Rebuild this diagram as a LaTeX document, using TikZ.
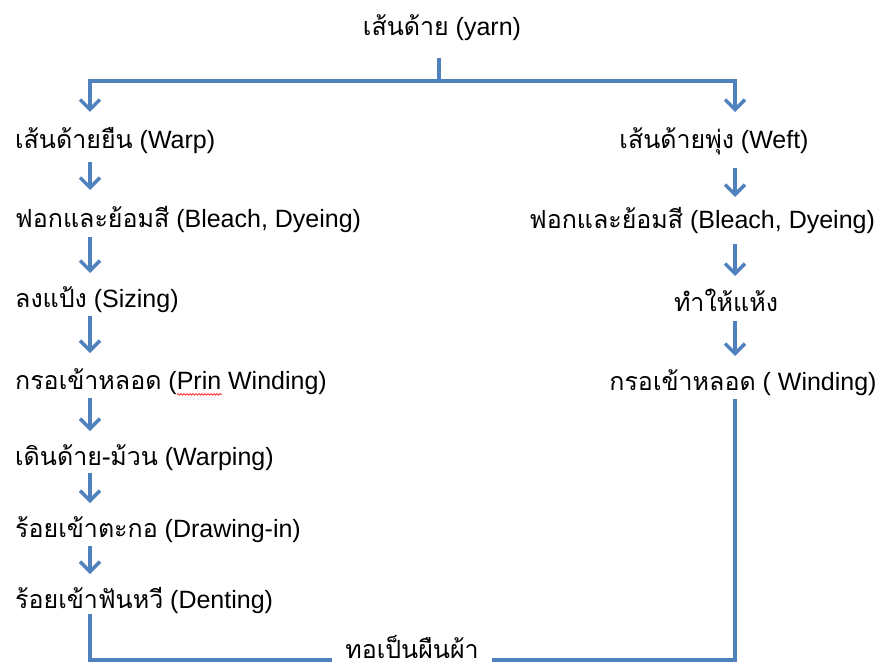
\documentclass[tikz,border=0pt]{standalone}
\usepackage{fontspec}
\setmainfont{Liberation Sans}
\newfontfamily\thf[Script=Thai]{Loma}
\usetikzlibrary{arrows.meta,calc,decorations.pathmorphing}
\definecolor{flowblue}{HTML}{4F81BD}
\newcommand\T[1]{{\thf #1}}
\newcommand\squig{\rlap{\tikz[baseline=0pt,x=1pt,y=1pt]\draw[red,line width=0.6pt,decorate,decoration={snake,amplitude=0.9pt,segment length=3pt}] (0,-5)--(45,-5);}}
\tikzset{
  lbl/.style={inner sep=0pt, font=\fontsize{25}{29}\selectfont, text=black},
  lft/.style={lbl, anchor=west},
  ln/.style={draw=flowblue, line width=3.5pt},
  arr/.style={ln, -{Straight Barb[length=10pt,width=20pt]}},
}
\begin{document}
\begin{tikzpicture}[x=1pt,y=-1pt]
\useasboundingbox (0,0) rectangle (880,668);
% title
\node[lbl] (yarn) at (442,28) {\T{เส้นด้าย} (yarn)};
\coordinate (j) at (439,81);
\coordinate (colL) at (90,0);
\coordinate (colR) at (735,0);
% left column
\node[lft] (warp) at (15,141) {\T{เส้นด้ายยืน} (Warp)};
\node[lft] (bleachL) at (15,220) {\T{ฟอกและย้อมสี} (Bleach, Dyeing)};
\node[lft] (sizing) at (15,300) {\T{ลงแป้ง} (Sizing)};
\node[lft] (prin) at (15,382) {\T{กรอเข้าหลอด} (\squig Prin Winding)};
\node[lft] (warping) at (15,458) {\T{เดินด้าย-ม้วน} (Warping)};
\node[lft] (drawing) at (15,530) {\T{ร้อยเข้าตะกอ} (Drawing-in)};
\node[lft] (denting) at (15,600) {\T{ร้อยเข้าฟันหวี} (Denting)};
% right column
\node[lbl] (weft) at (714,141) {\T{เส้นด้ายพุ่ง} (Weft)};
\node[lbl] (bleachR) at (702,221) {\T{ฟอกและย้อมสี} (Bleach, Dyeing)};
\node[lbl] (dry) at (726,300) {\T{ทำให้แห้ง}};
\node[lbl] (winding) at (743,383) {\T{กรอเข้าหลอด} ( Winding)};
% bottom
\node[lbl, inner xsep=13pt] (weave) at (412,647) {\T{ทอเป็นผืนผ้า}};
% top connectors
\draw[ln] ($(yarn.center -| j)+(0,30)$) -- (j);
\draw[arr] (j) -| ($(warp.center -| colL)+(0,-29)$);
\draw[arr] (j) -| ($(weft.center -| colR)+(0,-29)$);
% left arrows
\draw[arr] ($(warp.center -| colL)+(0,21)$) -- ($(bleachL.center -| colL)+(0,-30)$);
\draw[arr] ($(bleachL.center -| colL)+(0,17)$) -- ($(sizing.center -| colL)+(0,-27)$);
\draw[arr] ($(sizing.center -| colL)+(0,16)$) -- ($(prin.center -| colL)+(0,-29)$);
\draw[arr] ($(prin.center -| colL)+(0,16)$) -- ($(warping.center -| colL)+(0,-27)$);
\draw[arr] ($(warping.center -| colL)+(0,15)$) -- ($(drawing.center -| colL)+(0,-27)$);
\draw[arr] ($(drawing.center -| colL)+(0,16)$) -- ($(denting.center -| colL)+(0,-26)$);
% right arrows
\draw[arr] ($(weft.center -| colR)+(0,27)$) -- ($(bleachR.center -| colR)+(0,-24)$);
\draw[arr] ($(bleachR.center -| colR)+(0,23)$) -- ($(dry.center -| colR)+(0,-24)$);
\draw[arr] ($(dry.center -| colR)+(0,21)$) -- ($(winding.center -| colR)+(0,-27)$);
% bottom connectors
\draw[ln] ($(denting.center -| colL)+(0,14)$) |- ($(weave.west)+(0,13)$);
\draw[ln] ($(winding.center -| colR)+(0,16)$) |- ($(weave.east)+(0,13)$);
\end{tikzpicture}
\end{document}
